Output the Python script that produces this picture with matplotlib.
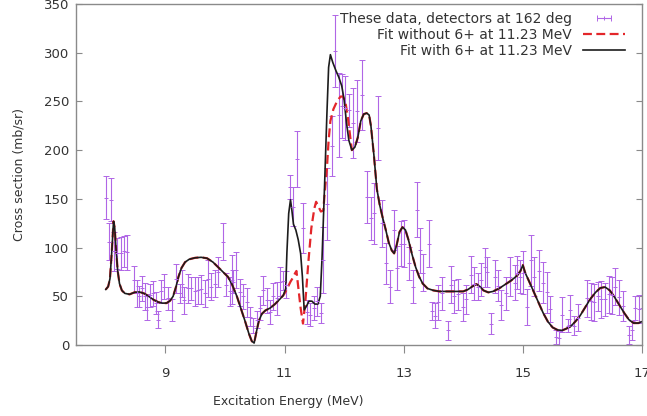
import numpy as np
import matplotlib.pyplot as plt

# data points: energy (MeV), cross section (mb/sr), error
energy = [8.01, 8.055, 8.09, 8.145, 8.185, 8.25, 8.31, 8.36, 8.48, 8.52,
          8.56, 8.61, 8.65, 8.70, 8.75, 8.80, 8.84, 8.88, 8.93, 8.98,
          9.04, 9.11, 9.18, 9.24, 9.28, 9.32, 9.38, 9.43, 9.49, 9.55,
          9.60, 9.66, 9.71, 9.77, 9.83, 9.88, 9.96, 10.02, 10.08, 10.11,
          10.14, 10.19, 10.25, 10.31, 10.37, 10.42, 10.47, 10.53, 10.59, 10.64,
          10.70, 10.76, 10.81, 10.87, 10.92, 10.97, 11.03, 11.09, 11.15, 11.21,
          11.31, 11.37, 11.43, 11.49, 11.55, 11.61, 11.65, 11.71, 11.80, 11.84,
          11.91, 11.97, 12.02, 12.09, 12.15, 12.22, 12.30, 12.39, 12.45, 12.51,
          12.57, 12.63, 12.71, 12.77, 12.84, 12.89, 12.96, 13.01, 13.09, 13.16,
          13.22, 13.28, 13.33, 13.43, 13.48, 13.53, 13.58, 13.65, 13.74, 13.79,
          13.85, 13.92, 13.99, 14.04, 14.13, 14.18, 14.24, 14.30, 14.36, 14.40,
          14.46, 14.53, 14.58, 14.64, 14.72, 14.78, 14.86, 14.91, 14.95, 15.01,
          15.07, 15.14, 15.19, 15.27, 15.34, 15.41, 15.45, 15.55, 15.60, 15.66,
          15.75, 15.79, 15.86, 15.93, 16.08, 16.14, 16.20, 16.26, 16.32, 16.38,
          16.45, 16.50, 16.55, 16.62, 16.68, 16.78, 16.83, 16.89, 16.95, 17.00]
xsec = [151, 106, 149, 96, 94, 94, 96, 95, 67, 53,
        50, 58, 50, 39, 51, 53, 43, 26, 55, 60,
        48, 36, 68, 53, 63, 46, 58, 58, 55, 56,
        57, 53, 68, 60, 63, 75, 106, 62, 55, 67,
        65, 77, 54, 50, 44, 29, 20, 26, 38, 56,
        46, 34, 50, 48, 65, 66, 62, 162, 142, 191,
        120, 34, 31, 38, 45, 33, 87, 145, 204, 302,
        236, 245, 243, 241, 228, 240, 257, 152, 130, 135,
        223, 125, 84, 60, 118, 79, 104, 104, 84, 60,
        139, 97, 74, 104, 35, 30, 44, 53, 15, 62,
        50, 52, 39, 47, 72, 63, 60, 67, 80, 75,
        22, 70, 61, 41, 53, 70, 64, 74, 70, 74,
        39, 87, 70, 76, 64, 54, 37, 8, 7, 31,
        20, 36, 20, 28, 48, 45, 44, 50, 47, 47,
        52, 51, 60, 49, 40, 10, 15, 38, 37, 38]
xsec_err = [22, 19, 22, 20, 16, 17, 16, 18, 14, 14,
            11, 13, 14, 13, 12, 13, 11, 9, 12, 13,
            12, 11, 15, 10, 14, 14, 15, 12, 15, 14,
            15, 14, 19, 14, 14, 15, 19, 12, 15, 25,
            12, 18, 14, 13, 15, 10, 8, 9, 12, 15,
            13, 12, 14, 17, 15, 10, 14, 12, 20, 29,
            26, 12, 12, 12, 15, 10, 34, 37, 31, 37,
            43, 33, 33, 17, 36, 32, 36, 27, 22, 31,
            33, 24, 21, 17, 21, 23, 23, 24, 17, 17,
            28, 23, 19, 24, 9, 13, 18, 17, 10, 19,
            17, 16, 14, 15, 19, 17, 14, 17, 20, 15,
            11, 17, 16, 15, 17, 20, 18, 17, 17, 22,
            18, 26, 20, 21, 21, 21, 13, 7, 7, 18,
            7, 15, 10, 14, 19, 19, 19, 15, 19, 17,
            19, 19, 19, 18, 15, 9, 10, 12, 14, 13]

# fit with the 6+ state at 11.23 MeV
fit_e = [8.00, 8.04, 8.07, 8.10, 8.13, 8.15, 8.17, 8.20, 8.23, 8.27,
         8.32, 8.40, 8.48, 8.56, 8.64, 8.72, 8.80, 8.88, 8.95, 9.02,
         9.08, 9.13, 9.18, 9.22, 9.27, 9.33, 9.40, 9.50, 9.60, 9.70,
         9.80, 9.90, 10.00, 10.05, 10.12, 10.20, 10.27, 10.34, 10.40, 10.45,
         10.49, 10.53, 10.57, 10.62, 10.68, 10.76, 10.84, 10.92, 10.98, 11.02,
         11.04, 11.07, 11.10, 11.12, 11.15, 11.19, 11.23, 11.27, 11.30, 11.33,
         11.37, 11.41, 11.46, 11.51, 11.56, 11.60, 11.63, 11.67, 11.71, 11.74,
         11.77, 11.81, 11.86, 11.91, 11.96, 12.00, 12.04, 12.08, 12.13, 12.18,
         12.23, 12.28, 12.33, 12.38, 12.42, 12.45, 12.50, 12.55, 12.60, 12.65,
         12.70, 12.75, 12.80, 12.84, 12.88, 12.93, 12.98, 13.03, 13.08, 13.14,
         13.20, 13.26, 13.32, 13.40, 13.50, 13.60, 13.75, 13.90, 14.00, 14.08,
         14.15, 14.22, 14.28, 14.34, 14.42, 14.50, 14.60, 14.70, 14.80, 14.90,
         14.96, 15.00, 15.04, 15.10, 15.18, 15.26, 15.34, 15.42, 15.50, 15.58,
         15.66, 15.72, 15.80, 15.88, 15.96, 16.05, 16.13, 16.22, 16.30, 16.38,
         16.46, 16.54, 16.62, 16.70, 16.78, 16.86, 16.94, 17.00]
fit_with = [57, 60, 68, 95, 127, 120, 100, 76, 63, 56,
            53, 52, 54, 54.5, 53, 50, 46.5, 44, 43, 43,
            45.5, 50, 60, 70, 79, 85, 88, 89.5, 90, 89,
            85, 79, 73, 70, 62, 50, 37, 24, 12, 4,
            2, 14, 25, 32, 35.5, 38, 42, 47, 51, 58,
            95, 135, 149, 140, 124, 118, 108, 94, 70, 36,
            40, 45, 45, 42, 42, 50, 90, 160, 235, 285,
            298, 290, 282, 275, 266, 252, 228, 210, 200, 203,
            213, 230, 237, 238, 236, 225, 195, 160, 143, 130,
            118, 105, 97, 94, 102, 116, 121, 118, 108, 93,
            80, 70, 63, 58, 56, 55, 55, 55, 55, 57,
            60, 62.5, 60, 56, 54, 55, 58, 62, 66, 71,
            76, 82, 74, 66, 55, 44, 33, 24, 18, 15.5,
            15, 16.5, 19, 24, 30, 39, 47, 54, 58.5, 59.5,
            56, 49, 41, 33, 26, 22.5, 22.5, 24]

# fit without the 6+ state, where it differs from the fit above
nofit_e = [11.02, 11.06, 11.10, 11.14, 11.18, 11.20, 11.23, 11.27, 11.31, 11.35,
           11.40, 11.45, 11.50, 11.53, 11.57, 11.61, 11.65, 11.68, 11.71, 11.74,
           11.77, 11.82, 11.88, 11.94, 11.98, 12.02, 12.06, 12.10]
nofit_v = [55, 60, 65, 69, 74, 76, 60, 38, 22, 45,
           85, 120, 140, 147, 142, 137, 138, 160, 180, 210,
           230, 242, 250, 255, 255, 250, 235, 215]

fe = np.array(fit_e)
fw = np.array(fit_with)
red_e = np.concatenate([fe[fe < 11.0], nofit_e, fe[fe > 12.12]])
red_v = np.concatenate([fw[fe < 11.0], nofit_v, fw[fe > 12.12]])

purple = '#b066e6'
grey = '#8a8a8a'
txt = '#333333'

fig = plt.figure(figsize=(6.47, 4.16), dpi=100)
ax = fig.add_axes([76/647, 71/416, 566/647, 341/416])

ax.errorbar(energy, xsec, yerr=xsec_err, fmt='+', ms=3, mew=0.7,
            elinewidth=0.8, capsize=2.5, capthick=0.8, color=purple)
red_line, = ax.plot(red_e, red_v, color='#e3262a', lw=1.6, dashes=(4, 2),
                    label='Fit without 6+ at 11.23 MeV')
blk_line, = ax.plot(fit_e, fit_with, color='#1c1c1c', lw=1.2,
                    label='Fit with 6+ at 11.23 MeV')

# proxy so the legend shows a horizontal bar like gnuplot does
proxy = ax.errorbar([np.nan], [np.nan], xerr=[1.0], fmt='+', ms=3, mew=0.7,
                    elinewidth=0.8, capsize=2.5, capthick=0.8, color=purple,
                    label='These data, detectors at 162 deg')

ax.set_xlim(7.5, 17)
ax.set_ylim(0, 350)
ax.set_xticks([9, 11, 13, 15, 17])
ax.set_yticks(range(0, 351, 50))

for s in ax.spines.values():
    s.set_color(grey)
    s.set_linewidth(1.0)

ax.tick_params(axis='x', direction='out', length=6, width=0.8, color=grey,
               pad=10, labelsize=9.5, labelcolor=txt)
ax.tick_params(axis='y', direction='in', length=4.5, width=0.8, color=grey,
               right=True, pad=5, labelsize=9.5, labelcolor=txt)

ax.set_xlabel('Excitation Energy (MeV)', fontsize=9, color=txt)
ax.set_ylabel('Cross section (mb/sr)', fontsize=9, color=txt)
ax.xaxis.set_label_coords(0.375, -0.147)
ax.yaxis.set_label_coords(-0.09, 0.5)

leg = ax.legend(handles=[proxy, red_line, blk_line], loc='upper right',
                bbox_to_anchor=(0.970, 0.977), frameon=False, markerfirst=False,
                fontsize=10, handlelength=3.0, handletextpad=0.8,
                labelspacing=0.15, borderpad=0, borderaxespad=0)
for t in leg.get_texts():
    t.set_color(txt)

fig.savefig('out.png', dpi=100)
